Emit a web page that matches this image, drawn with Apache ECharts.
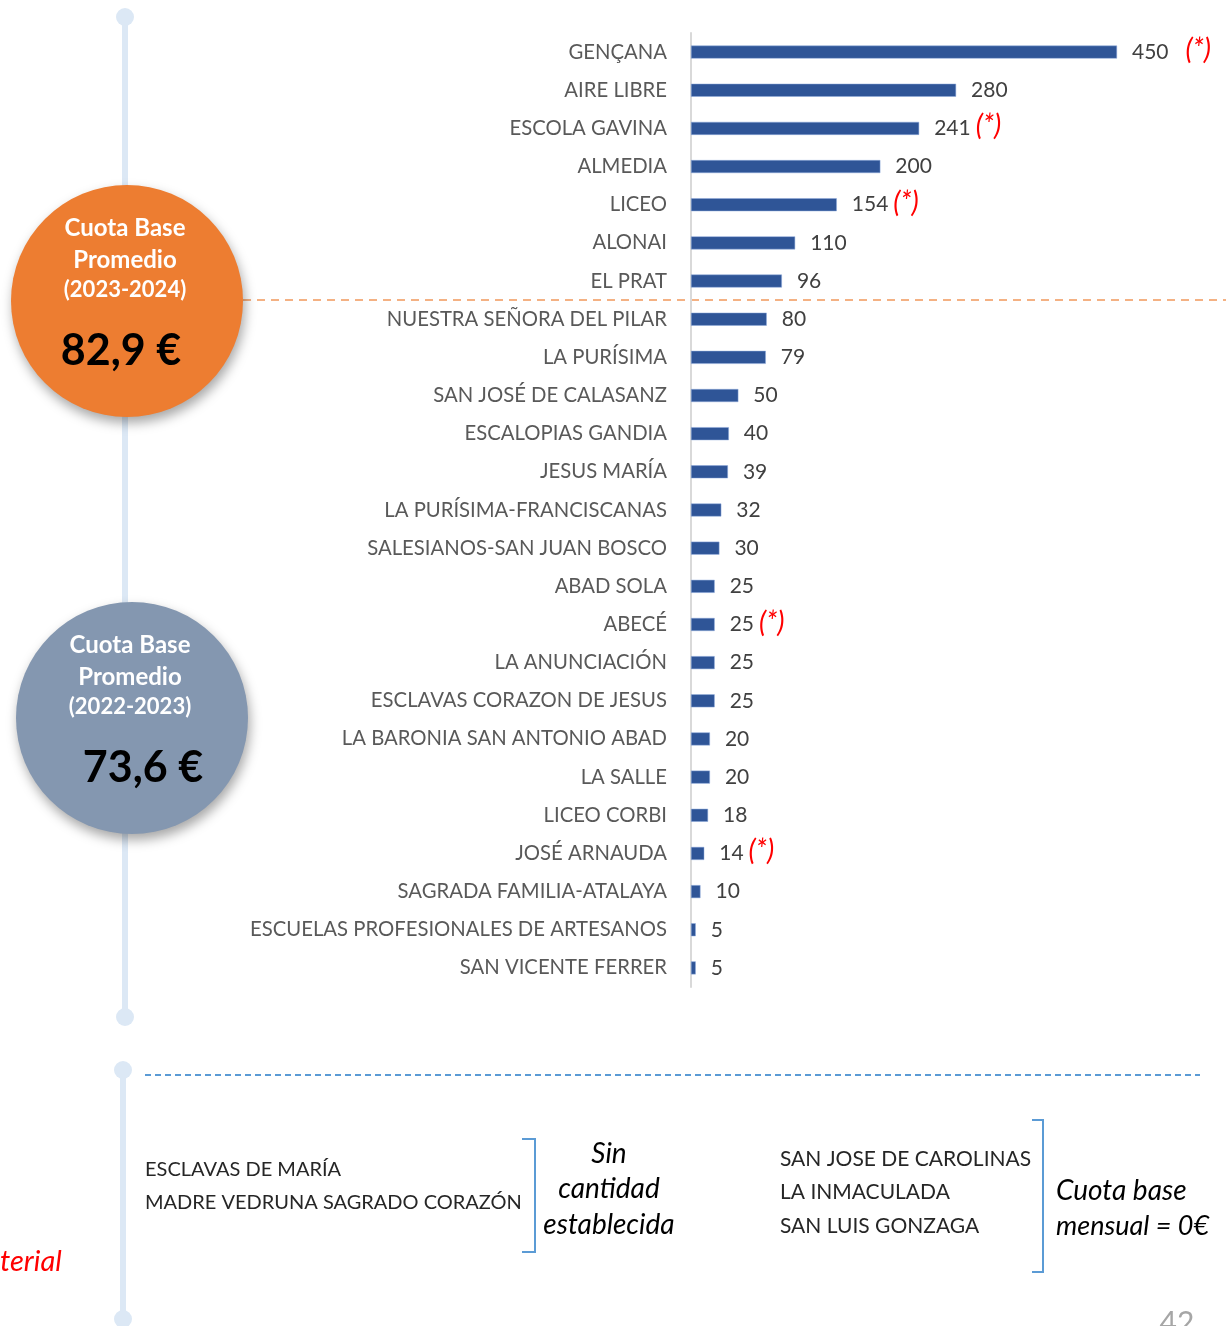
<!DOCTYPE html>
<html>
<head>
<meta charset="utf-8">
<script src="https://cdn.jsdelivr.net/npm/echarts@6/dist/echarts.min.js"></script>
<style>
  html, body { margin: 0; padding: 0; background: #fff; }
  #chart { width: 1226px; height: 1326px; }
</style>
</head>
<body>
<div id="chart"></div>
<script>
// colegios y cuota base mensual (€)
var schools = [
  'GENÇANA', 'AIRE LIBRE', 'ESCOLA GAVINA', 'ALMEDIA', 'LICEO', 'ALONAI', 'EL PRAT',
  'NUESTRA SEÑORA DEL PILAR', 'LA PURÍSIMA', 'SAN JOSÉ DE CALASANZ', 'ESCALOPIAS GANDIA',
  'JESUS MARÍA', 'LA PURÍSIMA-FRANCISCANAS', 'SALESIANOS-SAN JUAN BOSCO', 'ABAD SOLA',
  'ABECÉ', 'LA ANUNCIACIÓN', 'ESCLAVAS CORAZON DE JESUS', 'LA BARONIA SAN ANTONIO ABAD',
  'LA SALLE', 'LICEO CORBI', 'JOSÉ ARNAUDA', 'SAGRADA FAMILIA-ATALAYA',
  'ESCUELAS PROFESIONALES DE ARTESANOS', 'SAN VICENTE FERRER'
]
var fees = [450, 280, 241, 200, 154, 110, 96, 80, 79, 50, 40, 39, 32, 30, 25, 25, 25, 25, 20, 20, 18, 14, 10, 5, 5]
// colegios marcados con (*)
var marked = ['GENÇANA', 'ESCOLA GAVINA', 'LICEO', 'ABECÉ', 'JOSÉ ARNAUDA']

var avgNow = { title: ['Cuota Base', 'Promedio', '(2023-2024)'], value: '82,9 €' }
var avgPrev = { title: ['Cuota Base', 'Promedio', '(2022-2023)'], value: '73,6 €' }

var noAmount = ['ESCLAVAS DE MARÍA', 'MADRE VEDRUNA SAGRADO CORAZÓN']
var zeroFee = ['SAN JOSE DE CAROLINAS', 'LA INMACULADA', 'SAN LUIS GONZAGA']

var FONT = 'Lato, "Open Sans", sans-serif'
var myChart = echarts.init(document.getElementById('chart'))

function circleGroup(cx, cy, color, info, valueDx) {
  return [
    {
      type: 'circle', shape: { cx: cx, cy: cy, r: 116 }, z: 10,
      style: { fill: color, shadowBlur: 12, shadowOffsetX: 2, shadowOffsetY: 6, shadowColor: 'rgba(0,0,0,0.35)' }
    },
    { type: 'text', z: 11, style: { x: cx - 2, y: cy - 73, text: info.title[0], fill: '#fff', font: 'bold 24px ' + FONT, align: 'center', verticalAlign: 'middle' } },
    { type: 'text', z: 11, style: { x: cx - 2, y: cy - 41, text: info.title[1], fill: '#fff', font: 'bold 24px ' + FONT, align: 'center', verticalAlign: 'middle' } },
    { type: 'text', z: 11, style: { x: cx - 2, y: cy - 11, text: info.title[2], fill: '#fff', font: 'bold 22px ' + FONT, align: 'center', verticalAlign: 'middle' } },
    { type: 'text', z: 11, style: { x: cx - 6 + valueDx, y: cy + 50, text: info.value, fill: '#000', font: 'bold 43px ' + FONT, align: 'center', verticalAlign: 'middle' } }
  ]
}

var lineColor = '#dce8f5'
var graphics = [
  // timeline
  { type: 'line', shape: { x1: 125, y1: 17, x2: 125, y2: 1017 }, style: { stroke: lineColor, lineWidth: 6 } },
  { type: 'circle', shape: { cx: 125, cy: 17, r: 9 }, style: { fill: lineColor } },
  { type: 'circle', shape: { cx: 125, cy: 1017, r: 9 }, style: { fill: lineColor } },
  { type: 'line', shape: { x1: 123, y1: 1070, x2: 123, y2: 1320 }, style: { stroke: lineColor, lineWidth: 6 } },
  { type: 'circle', shape: { cx: 123, cy: 1070, r: 9 }, style: { fill: lineColor } },
  { type: 'circle', shape: { cx: 123, cy: 1319, r: 9 }, style: { fill: lineColor } },
  // separadores
  { type: 'line', shape: { x1: 243, y1: 300, x2: 1226, y2: 300 }, style: { stroke: '#f4b183', lineWidth: 2, lineDash: [8, 6] } },
  { type: 'line', shape: { x1: 145, y1: 1075, x2: 1200, y2: 1075 }, style: { stroke: '#5b9bd5', lineWidth: 2, lineDash: [6, 4] } },
  // corchetes
  { type: 'polyline', shape: { points: [[522, 1139], [535, 1139], [535, 1252], [522, 1252]] }, style: { stroke: '#5b9bd5', lineWidth: 2, fill: null } },
  { type: 'polyline', shape: { points: [[1032, 1120], [1043, 1120], [1043, 1272], [1032, 1272]] }, style: { stroke: '#5b9bd5', lineWidth: 2, fill: null } },
  // textos inferiores
  { type: 'text', style: { x: 145, y: 1170, text: noAmount[0], fill: '#262626', font: '20px ' + FONT, verticalAlign: 'middle' } },
  { type: 'text', style: { x: 145, y: 1203, text: noAmount[1], fill: '#262626', font: '20px ' + FONT, verticalAlign: 'middle' } },
  { type: 'text', style: { x: 609, y: 1154, text: 'Sin', fill: '#000', font: 'italic 28px ' + FONT, align: 'center', verticalAlign: 'middle' } },
  { type: 'text', style: { x: 609, y: 1189, text: 'cantidad', fill: '#000', font: 'italic 28px ' + FONT, align: 'center', verticalAlign: 'middle' } },
  { type: 'text', style: { x: 609, y: 1225, text: 'establecida', fill: '#000', font: 'italic 28px ' + FONT, align: 'center', verticalAlign: 'middle' } },
  { type: 'text', style: { x: 780, y: 1159, text: zeroFee[0], fill: '#262626', font: '21px ' + FONT, verticalAlign: 'middle' } },
  { type: 'text', style: { x: 780, y: 1192, text: zeroFee[1], fill: '#262626', font: '21px ' + FONT, verticalAlign: 'middle' } },
  { type: 'text', style: { x: 780, y: 1226, text: zeroFee[2], fill: '#262626', font: '21px ' + FONT, verticalAlign: 'middle' } },
  { type: 'text', style: { x: 1056, y: 1191, text: 'Cuota base', fill: '#000', font: 'italic 28px ' + FONT, verticalAlign: 'middle' } },
  { type: 'text', style: { x: 1056, y: 1226, text: 'mensual = 0€', fill: '#000', font: 'italic 27px ' + FONT, verticalAlign: 'middle' } },
  { type: 'text', style: { x: 0, y: 1262, text: 'terial', fill: '#ff0000', font: 'italic 29px ' + FONT, verticalAlign: 'middle' } },
  { type: 'text', style: { x: 1177, y: 1323, text: '42', fill: '#a6a6a6', font: '30px ' + FONT, align: 'center', verticalAlign: 'middle' } }
].concat(circleGroup(127, 301, '#ed7d31', avgNow, 0))
 .concat(circleGroup(132, 718, '#8497b0', avgPrev, 17))

var option = {
  animation: false,
  grid: { left: 691, top: 33, width: 426, height: 954, containLabel: false },
  xAxis: {
    type: 'value', min: 0, max: 450,
    show: false
  },
  yAxis: {
    type: 'category',
    inverse: true,
    data: schools,
    axisTick: { show: false },
    axisLine: { show: true, lineStyle: { color: '#d9d9d9', width: 2 } },
    axisLabel: { margin: 24, color: '#595959', fontSize: 20.3, fontFamily: FONT }
  },
  series: [
    {
      type: 'bar',
      data: fees,
      barWidth: 13,
      itemStyle: { color: '#2f5597', borderColor: '#8faadc', borderWidth: 0.5 },
      label: {
        show: true,
        position: 'right',
        distance: 15,
        formatter: function (p) {
          var s = '{v|' + p.value + '}'
          if (marked.indexOf(schools[p.dataIndex]) >= 0) {
            s += p.dataIndex === 0 ? '{gap|}{s|(*)}' : '{s|(*)}'
          }
          return s
        },
        rich: {
          v: { color: '#404040', fontSize: 21, fontFamily: FONT },
          gap: { width: 12 },
          s: { color: '#ff0000', fontSize: 28, fontStyle: 'italic', fontFamily: FONT, padding: [0, 0, 4, 5] }
        }
      }
    }
  ],
  graphic: graphics
}

option && myChart.setOption(option)
</script>
</body>
</html>
